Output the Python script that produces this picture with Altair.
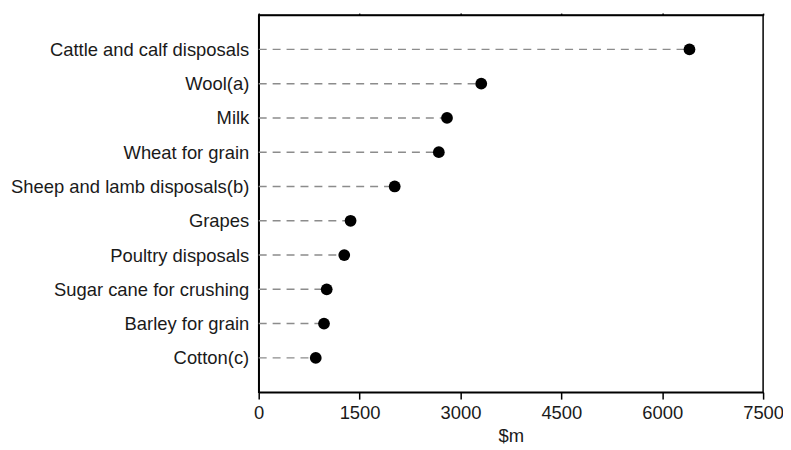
import altair as alt
import pandas as pd

categories = [
    "Cattle and calf disposals",
    "Wool(a)",
    "Milk",
    "Wheat for grain",
    "Sheep and lamb disposals(b)",
    "Grapes",
    "Poultry disposals",
    "Sugar cane for crushing",
    "Barley for grain",
    "Cotton(c)",
]
values = [6405, 3309, 2800, 2678, 2022, 1366, 1272, 1011, 971, 848]
x_ticks = [0, 1500, 3000, 4500, 6000, 7500]

df = pd.DataFrame({"item": categories, "value": values, "zero": [0] * len(values)})

FONT = "Liberation Sans"
TXT = "#1a1a1a"

y_scale = alt.Scale(type="point", padding=1)
y_axis = alt.Axis(
    title=None, ticks=False, labelFontSize=18.5, labelPadding=10, labelLimit=400,
    labelFont=FONT, labelColor=TXT, domainColor="black", domainWidth=1.5,
    grid=False,
)
x_scale = alt.Scale(domain=[0, 7500], nice=False, zero=True)


def y_enc():
    return alt.Y("item:N", sort=categories, scale=y_scale, axis=y_axis)


rules = alt.Chart(df).mark_rule(
    color="#8c8c8c", strokeWidth=1.5, strokeDash=[8, 6]
).encode(
    x=alt.X(
        "zero:Q", scale=x_scale,
        axis=alt.Axis(
            values=x_ticks, format="d", title="$m", titleFont=FONT, titleFontSize=18.5,
            titleFontWeight="normal", titleColor=TXT, titlePadding=5,
            labelFont=FONT, labelFontSize=18.5, labelColor=TXT, labelPadding=4,
            tickSize=7, tickColor="black", tickWidth=1.5, domainColor="black",
            domainWidth=1.5, grid=False, labelFlush=False,
        ),
    ),
    x2="value:Q",
    y=y_enc(),
)

points = alt.Chart(df).mark_circle(color="black", opacity=1, size=140).encode(
    x=alt.X("value:Q", scale=x_scale, axis=None),
    y=y_enc(),
)

top = alt.Chart(df).mark_point(opacity=0).encode(
    x=alt.X(
        "value:Q", scale=x_scale,
        axis=alt.Axis(
            orient="top", values=x_ticks, labels=False, title=None, tickSize=2,
            tickColor="black", tickWidth=1.5, domainColor="black", domainWidth=1.5,
            grid=False,
        ),
    ),
    y=y_enc(),
)

chart = (
    alt.layer(rules, points, top)
    .resolve_axis(x="independent")
    .properties(
        width=507,
        height=379,
        background="white",
        autosize=alt.AutoSizeParams(type="none"),
        padding={"left": 252, "top": 6, "right": 20, "bottom": 55},
    )
    .configure_view(stroke="black", strokeWidth=1.5)
)

chart.save("out.html", embed_options={"renderer": "svg", "actions": False})
